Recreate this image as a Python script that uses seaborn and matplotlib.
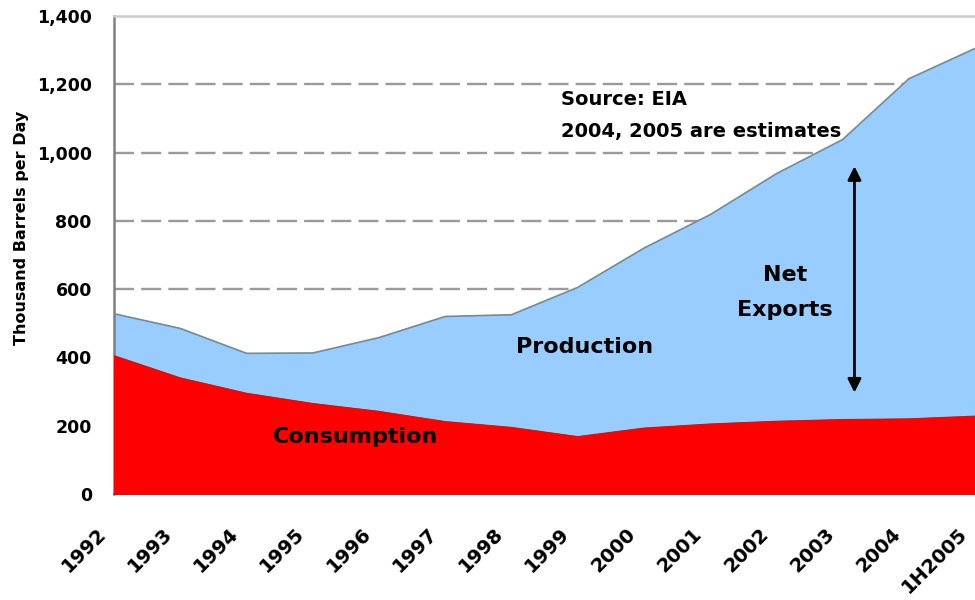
import pandas as pd
import matplotlib.pyplot as plt
import matplotlib.transforms as mtransforms
import seaborn as sns

# Data (thousand barrels per day)
years = ["1992", "1993", "1994", "1995", "1996", "1997", "1998",
         "1999", "2000", "2001", "2002", "2003", "2004", "1H2005"]
production = [528, 485, 412, 413, 458, 520, 525, 605, 720, 818, 938, 1038, 1216, 1305]
consumption = [405, 340, 295, 265, 242, 212, 195, 168, 193, 205, 213, 218, 220, 228]
y_ticks = [0, 200, 400, 600, 800, 1000, 1200, 1400]

data = pd.DataFrame({
    "pos": range(len(years)),
    "Year": years,
    "Production": production,
    "Consumption": consumption,
})

sns.set_style("white")
plt.rcParams["font.family"] = ["DejaVu Sans"]
plt.rcParams["font.weight"] = "bold"
plt.rcParams["text.color"] = "black"
plt.rcParams["xtick.labelcolor"] = "black"
plt.rcParams["ytick.labelcolor"] = "black"

fig = plt.figure(figsize=(9.75, 6), dpi=100)
ax = fig.add_axes([114 / 975, 1 - 494 / 600, (975 - 114) / 975, 478 / 600])

# Filled areas (production behind, consumption in front)
ax.fill_between(data["pos"], 0, data["Production"], color="#99CCFF", zorder=2)
ax.fill_between(data["pos"], 0, data["Consumption"], color="#FF0000", zorder=3)
sns.lineplot(data=data, x="pos", y="Production", color="#7a8a8a", linewidth=1.2, ax=ax, zorder=4)
sns.lineplot(data=data, x="pos", y="Consumption", color="#8a3030", linewidth=0.8, ax=ax, zorder=4)

# Axes
ax.set_xlim(0, (975 - 114) / 66.8)
ax.set_ylim(0, 1400)
ax.set_xticks(data["pos"])
ax.set_xticklabels(years, fontsize=14, fontweight="bold")
ax.set_yticks(y_ticks)
ax.set_yticklabels([f"{v:,}" for v in y_ticks], fontsize=12.5, fontweight="bold")
ax.tick_params(axis="both", direction="out", length=5, width=1.2, color="#777777",
               labelcolor="black")
ax.tick_params(axis="y", pad=11)
ax.set_xlabel("")
ax.set_ylabel("")
fig.text(22 / 975, 1 - 228 / 600, "Thousand Barrels per Day", rotation=90,
         ha="center", va="center", fontsize=11.5, fontweight="bold")

# rotated year labels, pushed down below the axis
shift = mtransforms.ScaledTranslation(-11 / 100, -25 / 100, fig.dpi_scale_trans)
for lbl in ax.get_xticklabels():
    lbl.set_rotation(45)
    lbl.set_rotation_mode("anchor")
    lbl.set_horizontalalignment("right")
    lbl.set_verticalalignment("center")
    lbl.set_transform(lbl.get_transform() + shift)

for y in y_ticks[1:-1]:
    ax.axhline(y, color="#9a9a9a", linestyle=(0, (8.5, 3)), linewidth=1.7, zorder=1)

ax.spines["right"].set_visible(False)
ax.spines["top"].set_color("#cccccc")
ax.spines["top"].set_linewidth(1.8)
ax.spines["left"].set_color("#808080")
ax.spines["left"].set_linewidth(1.8)
ax.spines["bottom"].set_color("#555555")
ax.spines["bottom"].set_linewidth(1.2)

# Annotations
ax.text(6.75, 1155, "Source: EIA", fontsize=14, fontweight="bold", va="center", zorder=5)
ax.text(6.75, 1061, "2004, 2005 are estimates", fontsize=14, fontweight="bold", va="center", zorder=5)
ax.text(7.11, 430, "Production", fontsize=16, fontweight="bold", ha="center", va="center", zorder=5)
ax.text(3.64, 167, "Consumption", fontsize=16, fontweight="bold", ha="center", va="center",
        color="black", zorder=5)
ax.text(10.13, 640, "Net", fontsize=16, fontweight="bold", ha="center", va="center", zorder=5)
ax.text(10.13, 538, "Exports", fontsize=16, fontweight="bold", ha="center", va="center", zorder=5)
ax.annotate("", xy=(11.18, 968), xytext=(11.18, 289),
            arrowprops=dict(arrowstyle="<|-|>", color="black", lw=2, mutation_scale=20), zorder=5)

fig.savefig("out.png", dpi=100)
